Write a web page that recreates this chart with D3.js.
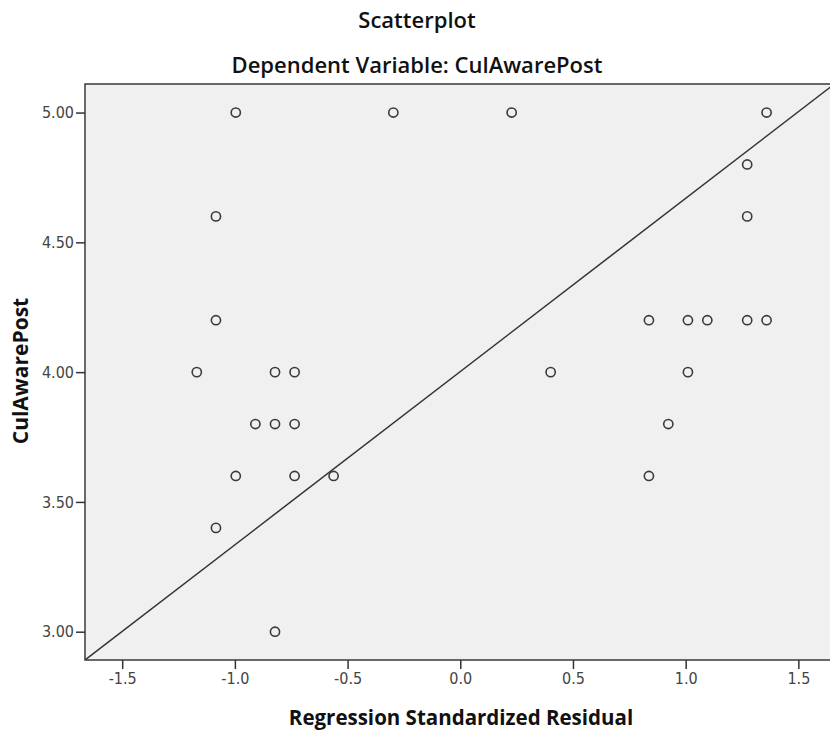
<!DOCTYPE html>
<html>
<head>
<meta charset="utf-8">
<script src="https://cdn.jsdelivr.net/npm/d3@7"></script>
<style>
  body { margin: 0; background: #fff; }
  text { font-family: "Open Sans", "DejaVu Sans", sans-serif; }
</style>
</head>
<body>
<svg width="830" height="731"></svg>
<script>
// Residual (x) and CulAwarePost (y) for each case
const residuals = [-0.996, -0.297, 0.228, 1.359,
                   1.273,
                   -1.084, 1.273,
                   -1.084, 0.837, 1.010, 1.096, 1.273, 1.359,
                   -1.169, -0.822, -0.735, 0.401, 1.010,
                   -0.909, -0.822, -0.735, 0.923,
                   -0.996, -0.735, -0.562, 0.837,
                   -1.084,
                   -0.822];
const culAware = [5.0, 5.0, 5.0, 5.0,
                  4.8,
                  4.6, 4.6,
                  4.2, 4.2, 4.2, 4.2, 4.2, 4.2,
                  4.0, 4.0, 4.0, 4.0, 4.0,
                  3.8, 3.8, 3.8, 3.8,
                  3.6, 3.6, 3.6, 3.6,
                  3.4,
                  3.0];

// Reference line end points (data units)
const lineX = [-1.665, 1.75];
const lineY = [2.891, 5.17];

const xTicks = [-1.5, -1.0, -0.5, 0.0, 0.5, 1.0, 1.5];
const yTicks = [3.0, 3.5, 4.0, 4.5, 5.0];

const margin = { top: 84, left: 85 };
const plotW = 751;   // runs past the right edge of the picture
const plotH = 576;

const svg = d3.select("svg");

const x = d3.scaleLinear().domain([-1.665, 1.667]).range([margin.left, margin.left + plotW]);
const y = d3.scaleLinear().domain([2.891, 5.11]).range([margin.top + plotH, margin.top]);

// Plot background
svg.append("rect")
    .attr("x", margin.left)
    .attr("y", margin.top)
    .attr("width", plotW)
    .attr("height", plotH)
    .attr("fill", "#f0f0f0")
    .attr("stroke", "#3a3a3a")
    .attr("stroke-width", 1.5);

// Clip for the line
svg.append("clipPath").attr("id", "plot-clip")
    .append("rect")
    .attr("x", margin.left)
    .attr("y", margin.top)
    .attr("width", plotW)
    .attr("height", plotH);

svg.append("line")
    .attr("clip-path", "url(#plot-clip)")
    .attr("x1", x(lineX[0]))
    .attr("y1", y(lineY[0]))
    .attr("x2", x(lineX[1]))
    .attr("y2", y(lineY[1]))
    .attr("stroke", "#333")
    .attr("stroke-width", 1.5);

// Points
svg.selectAll(".pt")
    .data(residuals.map((r, i) => ({ r: r, v: culAware[i] })))
    .enter().append("circle")
    .attr("class", "pt")
    .attr("cx", d => x(d.r))
    .attr("cy", d => y(d.v))
    .attr("r", 4.6)
    .attr("fill", "none")
    .attr("stroke", "#3a3a3a")
    .attr("stroke-width", 1.6);

// Axes (plain hyphen for negatives, like the original)
const fmt1 = d => d3.format(".1f")(d).replace("\u2212", "-");
const fmt2 = d => d3.format(".2f")(d).replace("\u2212", "-");

const xAxis = svg.append("g")
    .attr("transform", "translate(0," + (margin.top + plotH) + ")")
    .call(d3.axisBottom(x).tickValues(xTicks).tickFormat(fmt1).tickSize(9).tickPadding(4));

const yAxis = svg.append("g")
    .attr("transform", "translate(" + margin.left + ",0)")
    .call(d3.axisLeft(y).tickValues(yTicks).tickFormat(fmt2).tickSize(9).tickPadding(2));

[xAxis, yAxis].forEach(g => {
    g.select(".domain").remove();
    g.selectAll(".tick line").attr("stroke", "#333").attr("stroke-width", 1.5);
    g.selectAll(".tick text")
        .attr("fill", "#444")
        .style("font-size", "16px")
        .style("font-family", "'DejaVu Sans Condensed', 'DejaVu Sans', sans-serif");
});

// Titles
svg.append("text")
    .attr("x", 417)
    .attr("y", 28)
    .style("text-anchor", "middle")
    .style("font-size", "22px")
    .style("font-weight", "600")
    .attr("fill", "#111")
    .text("Scatterplot");

svg.append("text")
    .attr("x", 417)
    .attr("y", 73)
    .style("text-anchor", "middle")
    .style("font-size", "22px")
    .style("font-weight", "600")
    .attr("fill", "#111")
    .text("Dependent Variable: CulAwarePost");

svg.append("text")
    .attr("x", 461)
    .attr("y", 725)
    .style("text-anchor", "middle")
    .style("font-size", "20.5px")
    .style("font-weight", "bold")
    .attr("fill", "#111")
    .text("Regression Standardized Residual");

svg.append("text")
    .attr("transform", "translate(28,371) rotate(-90)")
    .style("text-anchor", "middle")
    .style("font-size", "21px")
    .style("font-weight", "bold")
    .attr("fill", "#111")
    .text("CulAwarePost");
</script>
</body>
</html>
